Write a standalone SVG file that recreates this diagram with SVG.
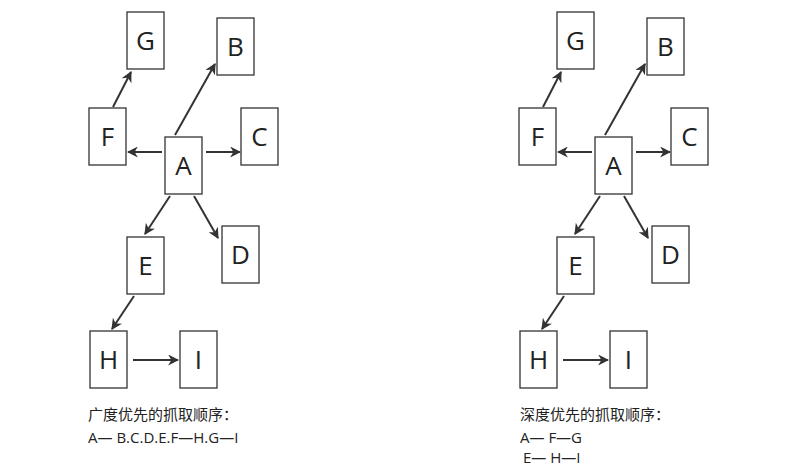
<svg xmlns="http://www.w3.org/2000/svg" width="800" height="471" viewBox="0 0 800 471">
<defs><marker id="ah" viewBox="0 0 10 10" refX="9" refY="5" markerWidth="5.5" markerHeight="5.5" orient="auto"><path d="M0,0 L10,5 L0,10 L3,5 z" fill="#333"/></marker></defs>
<style>
rect{fill:#fff;stroke:#333;stroke-width:1.3}
.n text{font-family:"Open Sans",sans-serif;font-size:26px;fill:#222;text-anchor:middle}
.c line{stroke:#333;stroke-width:2;marker-end:url(#ah)}
.t{font-family:"Open Sans","Noto Sans CJK SC",sans-serif;font-size:15px;fill:#222}
</style>
<rect x="0" y="0" width="800" height="471" style="stroke:none"/>
<g id="left">
<g class="n" id="G1"><rect x="127" y="12" width="37" height="57"/><text x="145.5" y="50">G</text></g>
<g class="n" id="B1"><rect x="217" y="18" width="37" height="57"/><text x="235.5" y="56">B</text></g>
<g class="n" id="F1"><rect x="89" y="108" width="37" height="57"/><text x="107.5" y="146">F</text></g>
<g class="n" id="A1"><rect x="165" y="137" width="37" height="57"/><text x="183.5" y="175">A</text></g>
<g class="n" id="C1"><rect x="241" y="108" width="37" height="57"/><text x="259.5" y="146">C</text></g>
<g class="n" id="D1"><rect x="222" y="226" width="37" height="57"/><text x="240.5" y="264">D</text></g>
<g class="n" id="E1"><rect x="127" y="237" width="37" height="57"/><text x="145.5" y="275">E</text></g>
<g class="n" id="H1"><rect x="90" y="331" width="37" height="57"/><text x="108.5" y="369">H</text></g>
<g class="n" id="I1"><rect x="180" y="331" width="37" height="57"/><text x="198.5" y="369">I</text></g>
<g class="c" id="conn1">
<line x1="113" y1="107" x2="131" y2="72"/><line x1="175" y1="135" x2="215" y2="64"/>
<line x1="162" y1="152" x2="128" y2="152"/><line x1="206" y1="152" x2="240" y2="152"/>
<line x1="170" y1="196" x2="145" y2="234"/><line x1="194" y1="196" x2="218" y2="238"/>
<line x1="134" y1="296" x2="112" y2="329"/><line x1="133" y1="360" x2="178" y2="360"/>
</g>
<text class="t" x="88" y="420">广度优先的抓取顺序：</text>
<text class="t" x="88" y="443">A— B.C.D.E.F—H.G—I</text>
</g>
<g id="right" transform="translate(430,0)">
<g class="n" id="G2"><rect x="127" y="12" width="37" height="57"/><text x="145.5" y="50">G</text></g>
<g class="n" id="B2"><rect x="217" y="18" width="37" height="57"/><text x="235.5" y="56">B</text></g>
<g class="n" id="F2"><rect x="89" y="108" width="37" height="57"/><text x="107.5" y="146">F</text></g>
<g class="n" id="A2"><rect x="165" y="137" width="37" height="57"/><text x="183.5" y="175">A</text></g>
<g class="n" id="C2"><rect x="241" y="108" width="37" height="57"/><text x="259.5" y="146">C</text></g>
<g class="n" id="D2"><rect x="222" y="226" width="37" height="57"/><text x="240.5" y="264">D</text></g>
<g class="n" id="E2"><rect x="127" y="237" width="37" height="57"/><text x="145.5" y="275">E</text></g>
<g class="n" id="H2"><rect x="90" y="331" width="37" height="57"/><text x="108.5" y="369">H</text></g>
<g class="n" id="I2"><rect x="180" y="331" width="37" height="57"/><text x="198.5" y="369">I</text></g>
<g class="c" id="conn2">
<line x1="113" y1="107" x2="131" y2="72"/><line x1="175" y1="135" x2="215" y2="64"/>
<line x1="162" y1="152" x2="128" y2="152"/><line x1="206" y1="152" x2="240" y2="152"/>
<line x1="170" y1="196" x2="145" y2="234"/><line x1="194" y1="196" x2="218" y2="238"/>
<line x1="134" y1="296" x2="112" y2="329"/><line x1="133" y1="360" x2="178" y2="360"/>
</g>
<text class="t" x="90" y="420">深度优先的抓取顺序：</text>
<text class="t" x="90" y="443">A— F—G</text>
<text class="t" x="93" y="463">E— H—I</text>
</g>
</svg>
